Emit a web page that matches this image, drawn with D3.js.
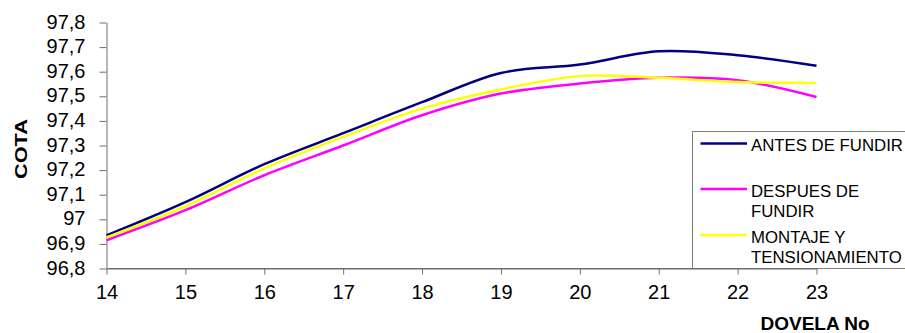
<!DOCTYPE html>
<html>
<head>
<meta charset="utf-8">
<script src="https://cdn.jsdelivr.net/npm/d3@7/dist/d3.min.js"></script>
<style>
  html, body { margin: 0; padding: 0; background: #fff; }
  svg { display: block; font-family: "Liberation Sans", Arial, sans-serif; }
</style>
</head>
<body>
<svg id="chart" width="905" height="333"></svg>
<script>
// Dovela numbers along the x axis
const dovelas = [14, 15, 16, 17, 18, 19, 20, 21, 22, 23];

// Cota (elevation) per dovela for each stage
const antesDeFundir = [96.935, 97.070, 97.224, 97.350, 97.476, 97.595, 97.629, 97.683, 97.667, 97.624];
const despuesDeFundir = [96.915, 97.037, 97.179, 97.300, 97.423, 97.511, 97.552, 97.575, 97.565, 97.497];
const montajeTensionamiento = [96.926, 97.053, 97.207, 97.335, 97.450, 97.528, 97.582, 97.575, 97.558, 97.554];

const seriesNames = ["ANTES DE FUNDIR", "DESPUES DE FUNDIR", "MONTAJE Y TENSIONAMIENTO"];
const legendLines = [["ANTES DE FUNDIR"], ["DESPUES DE", "FUNDIR"], ["MONTAJE Y", "TENSIONAMIENTO"]];
const seriesColors = ["#000080", "#ff00ff", "#ffff00"];

const yTicks = [96.8, 96.9, 97.0, 97.1, 97.2, 97.3, 97.4, 97.5, 97.6, 97.7, 97.8];
const yDomain = [96.8, 97.8];

const svg = d3.select("#chart");

const x = d3.scaleLinear().domain([dovelas[0], dovelas[dovelas.length - 1]]).range([106.5, 816.5]);
const y = d3.scaleLinear().domain(yDomain).range([268.5, 22.5]);

const fmt = v => String(+v.toFixed(1)).replace(".", ",");

// Y axis
const yAxis = svg.append("g")
  .attr("transform", `translate(${x.range()[0]},0)`)
  .call(d3.axisLeft(y).tickValues(yTicks).tickFormat(fmt).tickSizeInner(7).tickSizeOuter(0).tickPadding(14));
yAxis.select(".domain").attr("stroke", "#6e6e6e");
yAxis.selectAll(".tick line").attr("stroke", "#6e6e6e");
yAxis.selectAll(".tick text")
  .attr("fill", "#000").attr("font-size", 20).attr("dy", "0.28em")
  .style("font-family", "'Liberation Sans', Arial, sans-serif");

// X axis
const xAxis = svg.append("g")
  .attr("transform", `translate(0,${y.range()[0]})`)
  .call(d3.axisBottom(x).tickValues(dovelas).tickFormat(d3.format("d")).tickSizeInner(6).tickSizeOuter(0).tickPadding(10));
xAxis.select(".domain").attr("stroke", "#6e6e6e");
xAxis.selectAll(".tick line").attr("stroke", "#6e6e6e");
xAxis.selectAll(".tick text")
  .attr("fill", "#000").attr("font-size", 20)
  .style("font-family", "'Liberation Sans', Arial, sans-serif");

// Axis titles
svg.append("text")
  .attr("transform", "translate(27,149) rotate(-90)")
  .attr("text-anchor", "middle")
  .attr("font-size", 17).attr("font-weight", "bold")
  .attr("textLength", 60).attr("lengthAdjust", "spacingAndGlyphs")
  .text("COTA");

svg.append("text")
  .attr("x", 815).attr("y", 329.5)
  .attr("text-anchor", "middle")
  .attr("font-size", 19).attr("font-weight", "bold")
  .text("DOVELA No");

// Smoothed series lines
const line = d3.line()
  .x((d, i) => x(dovelas[i]))
  .y(d => y(d))
  .curve(d3.curveCatmullRom.alpha(0.5));

const allSeries = [antesDeFundir, despuesDeFundir, montajeTensionamiento];
svg.append("g").selectAll("path")
  .data(allSeries)
  .join("path")
  .attr("d", d => line(d))
  .attr("fill", "none")
  .attr("stroke", (d, i) => seriesColors[i])
  .attr("stroke-width", 2.5)
  .attr("stroke-linejoin", "round");

// Legend
const legend = svg.append("g");
legend.append("rect")
  .attr("x", 692.5).attr("y", 131.5)
  .attr("width", 240).attr("height", 137)
  .attr("fill", "#fff").attr("stroke", "#808080").attr("stroke-width", 1);

const entryY = [143.5, 189, 235];
const lineGap = 20.5;
seriesNames.forEach((name, i) => {
  const g = legend.append("g");
  g.append("line")
    .attr("x1", 700.5).attr("x2", 747)
    .attr("y1", entryY[i]).attr("y2", entryY[i])
    .attr("stroke", seriesColors[i]).attr("stroke-width", 2.5);
  legendLines[i].forEach((txt, j) => {
    g.append("text")
      .attr("x", 751)
      .attr("y", entryY[i] + 7.5 + j * lineGap)
      .attr("font-size", 16.8)
      .text(txt);
  });
});

// X axis line is redrawn over the legend border where they meet
svg.append("line")
  .attr("x1", x.range()[0]).attr("x2", x.range()[1])
  .attr("y1", y.range()[0]).attr("y2", y.range()[0])
  .attr("stroke", "#6e6e6e").attr("shape-rendering", "crispEdges");
</script>
</body>
</html>
